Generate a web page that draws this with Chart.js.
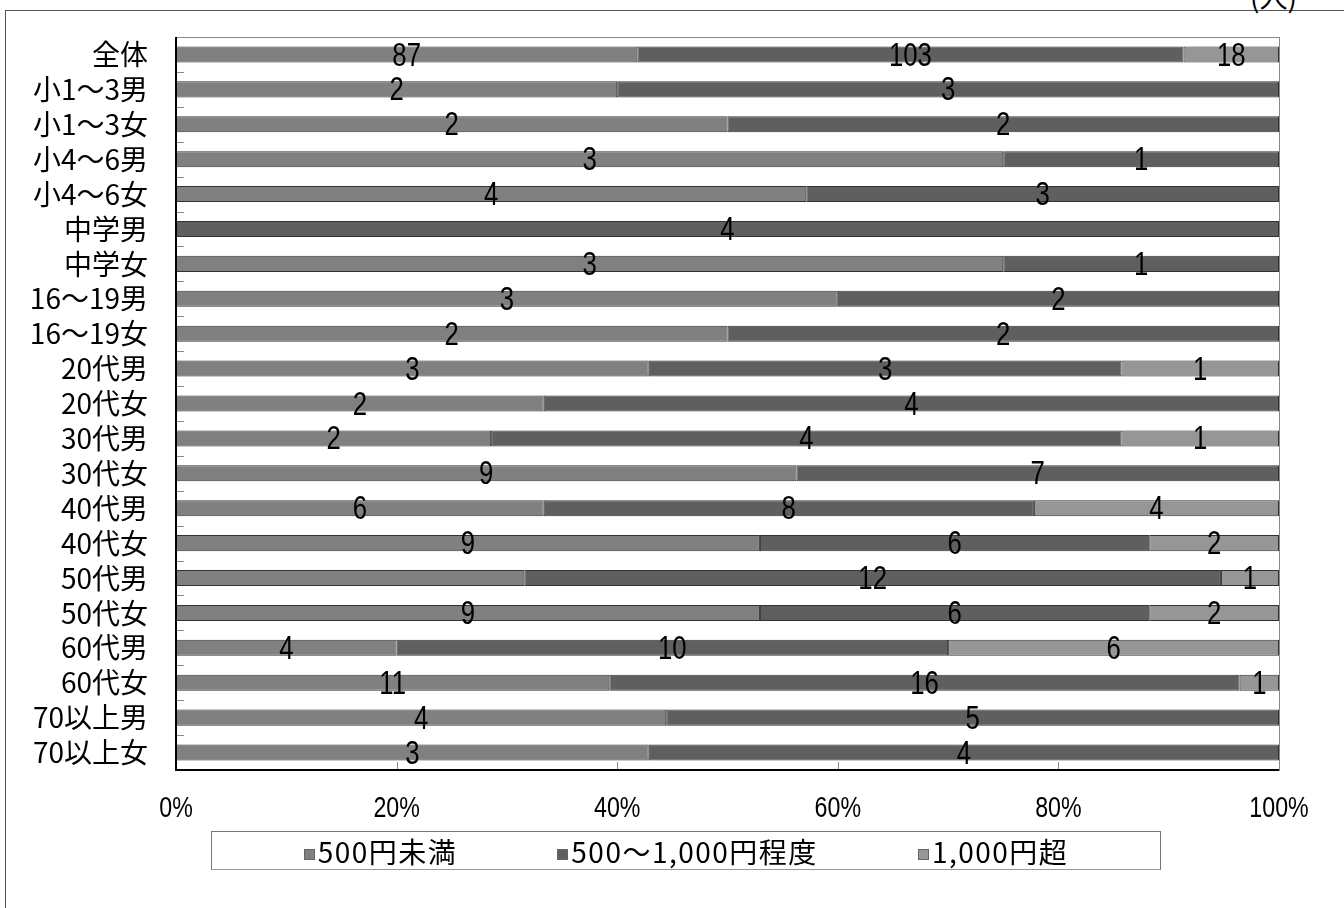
<!DOCTYPE html>
<html lang="ja">
  <head>
    <meta charset="UTF-8" />
    <title>金額別 人数</title>
    <script src="https://cdn.jsdelivr.net/npm/chart.js"></script>
    <style>
      body { margin: 0; background: #fff; overflow: hidden; }
      #frame {
        position: absolute; left: 5px; top: 10px; width: 1345px; height: 910px;
        border: 1px solid #555;
      }
      #unit {
        position: absolute; left: 1250px; top: -24px;
        font: 28px "Noto Sans CJK JP", sans-serif;
      }
      #chart { position: absolute; left: 0; top: 0; }
      #legend {
        position: absolute; left: 211px; top: 831px; width: 948px; height: 37px;
        border: 1px solid #777; border-bottom-color: #999;
        display: flex; justify-content: center; align-items: center; gap: 100px;
        font: 28px "Noto Sans CJK JP", sans-serif; letter-spacing: 1.5px;
      }
      #legend div { white-space: nowrap; }
      #legend span.box {
        display: inline-block; width: 9px; height: 9px; margin-right: 3px;
        border: 1px solid #666; vertical-align: 3px;
      }
    </style>
  </head>
  <body>
    <div id="frame"></div>
    <div id="unit">(人)</div>
    <canvas id="chart" width="1344" height="908"></canvas>
    <div id="legend"></div>
    <script>
      const categories = [
        "全体", "小1〜3男", "小1〜3女", "小4〜6男", "小4〜6女", "中学男", "中学女",
        "16〜19男", "16〜19女", "20代男", "20代女", "30代男", "30代女", "40代男",
        "40代女", "50代男", "50代女", "60代男", "60代女", "70以上男", "70以上女",
      ];
      const seriesNames = ["500円未満", "500〜1,000円程度", "1,000円超"];
      const seriesColors = ["#808080", "#5f5f5f", "#969696"];
      const under500 = [87, 2, 2, 3, 4, 0, 3, 3, 2, 3, 2, 2, 9, 6, 9, 6, 9, 4, 11, 4, 3];
      const from500to1000 = [103, 3, 2, 1, 3, 4, 1, 2, 2, 3, 4, 4, 7, 8, 6, 12, 6, 10, 16, 5, 4];
      const over1000 = [18, 0, 0, 0, 0, 0, 0, 0, 0, 1, 0, 1, 0, 4, 2, 1, 2, 6, 1, 0, 0];
      const xTicks = [0, 20, 40, 60, 80, 100];
      // labels not shown in the original: [series, category]
      const hiddenLabels = [[0, 15]];

      const counts = [under500, from500to1000, over1000];
      const totals = categories.map((_, i) => counts.reduce((s, c) => s + c[i], 0));
      const pct = (arr) => arr.map((v, i) => (v > 0 ? (v / totals[i]) * 100 : null));

      // legend
      const legend = document.getElementById("legend");
      seriesNames.forEach((n, i) => {
        legend.innerHTML += `<div><span class="box" style="background:${seriesColors[i]}"></span>${n}</div>`;
      });

      // narrow digits: Liberation Sans squeezed horizontally
      function narrowText(ctx, text, x, y, size, sx) {
        ctx.save();
        ctx.font = size + 'px "Liberation Sans", Arial, sans-serif';
        ctx.textAlign = "center";
        ctx.textBaseline = "middle";
        ctx.translate(x, y);
        ctx.scale(sx, 1);
        ctx.fillText(text, 0, 0);
        ctx.restore();
      }

      const decor = {
        id: "decor",
        afterDatasetsDraw(chart) {
          const ctx = chart.ctx;
          const a = chart.chartArea;
          const y = chart.scales.y;
          const x = chart.scales.x;
          ctx.save();
          // tick marks inside the plot
          ctx.strokeStyle = "#888";
          ctx.lineWidth = 1;
          const band = (a.bottom - a.top) / categories.length;
          for (let i = 1; i < categories.length; i++) {
            const yy = Math.round(y.getPixelForValue(i) - band / 2) + 0.5;
            ctx.beginPath();
            ctx.moveTo(a.left, yy);
            ctx.lineTo(a.left + 8, yy);
            ctx.stroke();
          }
          xTicks.slice(1, -1).forEach((v) => {
            const xx = Math.round(x.getPixelForValue(v)) + 0.5;
            ctx.beginPath();
            ctx.moveTo(xx, a.bottom);
            ctx.lineTo(xx, a.bottom - 8);
            ctx.stroke();
          });
          // plot frame
          ctx.strokeStyle = "#888";
          ctx.strokeRect(a.left + 0.5, a.top + 0.5, a.right - a.left, a.bottom - a.top);
          ctx.strokeStyle = "#000";
          ctx.lineWidth = 2;
          ctx.beginPath();
          ctx.moveTo(a.left, a.top);
          ctx.lineTo(a.left, a.bottom);
          ctx.lineTo(a.right, a.bottom);
          ctx.stroke();
          // x tick labels
          ctx.fillStyle = "#000";
          xTicks.forEach((v) => narrowText(ctx, v + "%", x.getPixelForValue(v), a.bottom + 39, 29, 0.8));
          // value labels
          counts.forEach((c, di) => {
            const meta = chart.getDatasetMeta(di);
            meta.data.forEach((el, ci) => {
              if (!c[ci]) return;
              if (hiddenLabels.some((h) => h[0] === di && h[1] === ci)) return;
              narrowText(ctx, String(c[ci]), (el.x + el.base) / 2, el.y + 2, 33, 0.78);
            });
          });
          ctx.restore();
        },
      };

      new Chart(document.getElementById("chart"), {
        type: "bar",
        data: {
          labels: categories,
          datasets: counts.map((c, i) => ({
            label: seriesNames[i],
            data: pct(c),
            backgroundColor: seriesColors[i],
            borderColor: "#333",
            borderWidth: 1,
            borderSkipped: false,
            categoryPercentage: 1,
            barPercentage: 0.46,
          })),
        },
        options: {
          indexAxis: "y",
          responsive: false,
          animation: false,
          layout: { padding: { left: 0, top: 37, right: 65, bottom: 78 } },
          plugins: { legend: { display: false }, tooltip: { enabled: false } },
          scales: {
            x: {
              stacked: true,
              min: 0,
              max: 100,
              afterFit: (s) => { s.height = 60; s.paddingLeft = 0; s.paddingRight = 0; },
              grid: { display: false, drawTicks: false },
              border: { display: false },
              ticks: { display: false, stepSize: 20 },
            },
            y: {
              stacked: true,
              afterFit: (s) => { s.width = 176; s.paddingTop = 0; s.paddingBottom = 0; },
              grid: { display: false, drawTicks: false },
              border: { display: false },
              ticks: {
                autoSkip: false,
                padding: 28,
                color: "#000",
                font: { family: '"Noto Sans CJK JP", sans-serif', size: 28 },
              },
            },
          },
        },
        plugins: [decor],
      });
    </script>
  </body>
</html>
